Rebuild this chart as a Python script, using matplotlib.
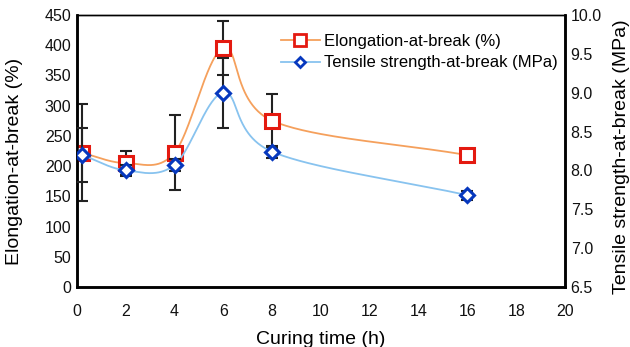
import numpy as np
import matplotlib
matplotlib.use("Agg")
import matplotlib.pyplot as plt

plt.rcParams['font.family'] = ['Liberation Sans', 'DejaVu Sans']

# data
curing_time = [0.2, 2, 4, 6, 8, 16]
elongation = [222, 205, 222, 395, 275, 218]
elongation_err = [80, 20, 62, 45, 45, 0]
tensile = [8.20, 8.00, 8.07, 9.00, 8.24, 7.68]
tensile_err = [0.35, 0.07, 0.08, 0.45, 0.08, 0.06]

x_ticks = [0, 2, 4, 6, 8, 10, 12, 14, 16, 18, 20]
left_ticks = [0, 50, 100, 150, 200, 250, 300, 350, 400, 450]
right_ticks = [6.5, 7.0, 7.5, 8.0, 8.5, 9.0, 9.5, 10.0]


def smooth(xs, ys, xr, yr, n=60):
    # Excel-like smoothed line: Catmull-Rom in normalised axes space
    px = np.asarray(xs, float) / xr
    py = np.asarray(ys, float) / yr
    px = np.concatenate([[2*px[0]-px[1]], px, [2*px[-1]-px[-2]]])
    py = np.concatenate([[2*py[0]-py[1]], py, [2*py[-1]-py[-2]]])
    outx, outy = [], []
    t = np.linspace(0, 1, n)
    for i in range(1, len(px)-2):
        p0, p1, p2, p3 = px[i-1:i+3]
        q0, q1, q2, q3 = py[i-1:i+3]
        c1x, c1y = p1 + (p2-p0)/6, q1 + (q2-q0)/6
        c2x, c2y = p2 - (p3-p1)/6, q2 - (q3-q1)/6
        bx = (1-t)**3*p1 + 3*(1-t)**2*t*c1x + 3*(1-t)*t**2*c2x + t**3*p2
        by = (1-t)**3*q1 + 3*(1-t)**2*t*c1y + 3*(1-t)*t**2*c2y + t**3*q2
        outx.extend(bx)
        outy.extend(by)
    return np.array(outx)*xr, np.array(outy)*yr


fig = plt.figure(figsize=(6.3, 3.47), dpi=100)
ax = fig.add_axes([0.122, 0.173, 0.775, 0.784])
ax2 = ax.twinx()

orange = '#F5A05C'
light_blue = '#88C3EF'
red = '#E41A10'
blue = '#0638BE'

sx, sy = smooth(curing_time, elongation, 20, 450)
ax.plot(sx, sy, color=orange, lw=1.3, zorder=2)
ax.errorbar(curing_time, elongation, yerr=elongation_err, fmt='none',
            ecolor='#222222', elinewidth=1.5, capsize=4, capthick=1.5, zorder=3)
ax.plot(curing_time, elongation, ls='none', marker='s', ms=10, mfc='white',
        mec=red, mew=2.2, zorder=4)

tx, ty = smooth(curing_time, np.array(tensile) - 6.5, 20, 3.5)
ax2.plot(tx, ty + 6.5, color=light_blue, lw=1.3, zorder=2)
ax2.errorbar(curing_time, tensile, yerr=tensile_err, fmt='none',
             ecolor='#222222', elinewidth=1.5, capsize=4, capthick=1.5, zorder=3)
ax2.plot(curing_time, tensile, ls='none', marker='D', ms=7, mfc='white',
         mec=blue, mew=2.2, zorder=4)

# legend proxies
h1, = ax2.plot([], [], color=orange, lw=1.3, marker='s', ms=8, mfc='white',
               mec=red, mew=2)
h2, = ax2.plot([], [], color=light_blue, lw=1.3, marker='D', ms=5.5,
               mfc='white', mec=blue, mew=2)
ax2.legend([h1, h2], ['Elongation-at-break (%)', 'Tensile strength-at-break (MPa)'],
           loc='upper left', bbox_to_anchor=(0.405, 0.955), frameon=False,
           fontsize=12, handlelength=2.3, handletextpad=0.25,
           labelspacing=0.4, borderaxespad=0)

ax.set_xlim(0, 20)
ax.set_ylim(0, 450)
ax2.set_ylim(6.5, 10.0)
ax.set_xticks(x_ticks)
ax.set_yticks(left_ticks)
ax2.set_yticks(right_ticks)
ax2.set_yticklabels(['%.1f' % v for v in right_ticks])

for a in (ax, ax2):
    a.tick_params(length=0, labelsize=11.5, colors='#111111', pad=4)
    for s in ('left', 'bottom', 'right'):
        a.spines[s].set_linewidth(1.8)
    a.spines['top'].set_linewidth(1.0)
ax.tick_params(axis='x', pad=12)

ax.set_xlabel('Curing time (h)', fontsize=14, labelpad=9)
ax.set_ylabel('Elongation-at-break (%)', fontsize=14)
ax2.set_ylabel('Tensile strength-at-break (MPa)', fontsize=14)
ax.yaxis.set_label_coords(-0.111, 0.463)
ax2.yaxis.set_label_coords(1.098, 0.48)

fig.savefig('out.png', dpi=100)
